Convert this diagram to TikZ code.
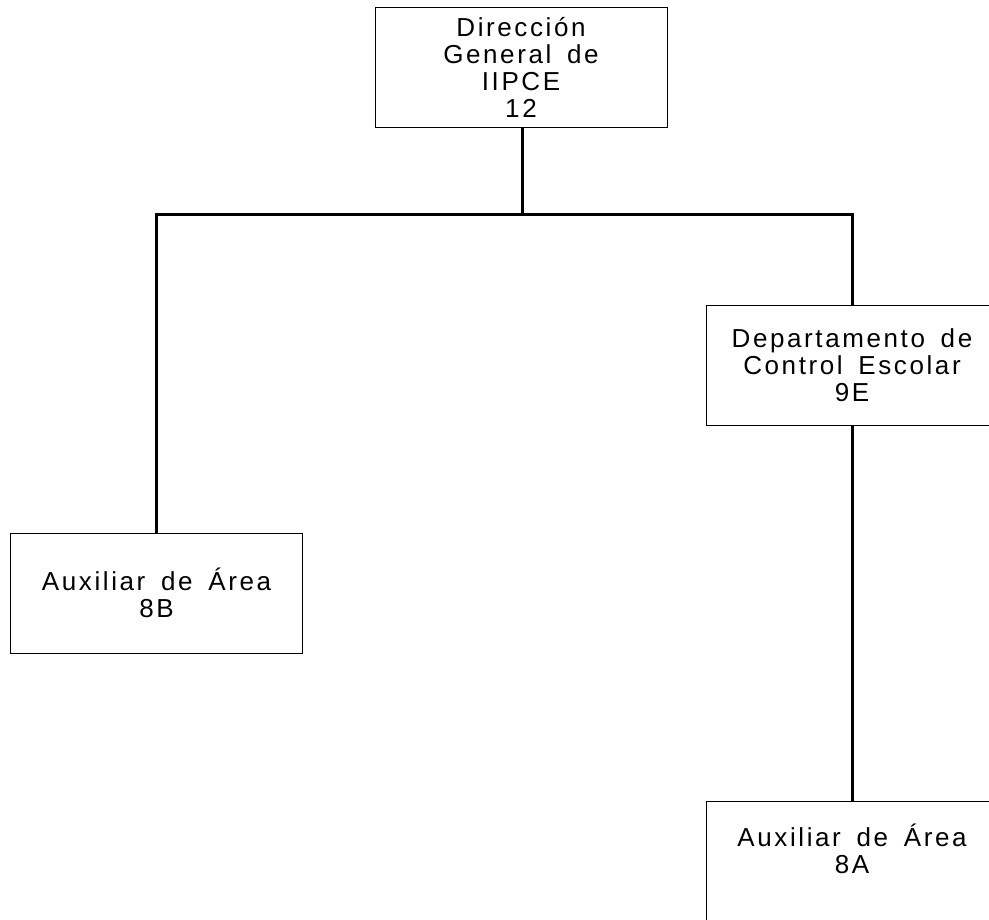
\documentclass[tikz,border=0pt]{standalone}
\usepackage{fontspec}
\setmainfont[LetterSpace=10,WordSpace=1.6]{Liberation Sans}
\begin{document}
\begin{tikzpicture}[x=1pt,y=-1pt,
  puesto/.style={shape=rectangle,draw=black,line width=0.9pt,align=center,
    minimum width=292pt,minimum height=120pt,inner sep=0pt,
    font=\fontsize{26}{27}\selectfont},
  linea/.style={draw=black,line width=3pt}]
\useasboundingbox (0,0) rectangle (989,920);
\node[puesto] (DG) at (521,67) {Dirección\\General de\\IIPCE\\12};
\node[puesto] (DCE) at (852,365) {Departamento de\\Control Escolar\\9E};
\node[puesto] (AA8B) at (156.5,593) {Auxiliar de Área\\8B};
\node[puesto,anchor=north,text depth=26pt] (AA8A) at (852,801) {Auxiliar de Área\\8A};
\coordinate (bus) at (522,215);
\draw[linea] (DG.south -| bus) -- (bus);
\draw[linea] (bus) -| (AA8B.north);
\draw[linea] (bus) -| (DCE.north);
\draw[linea] (DCE.south) -- (AA8A.north);
\end{tikzpicture}
\end{document}
